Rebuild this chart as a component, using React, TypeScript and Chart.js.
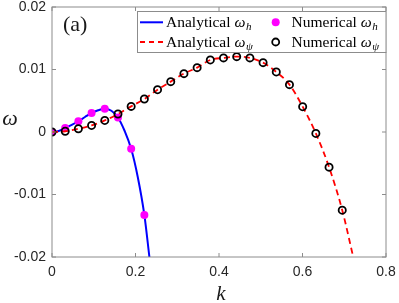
import React, { useEffect, useRef } from 'react';
import { Chart, registerables } from 'chart.js';

Chart.register(...registerables);

// Numerical samples (k)
const kNumPsi = [0, 0.0316, 0.0632, 0.0948, 0.1264, 0.158, 0.1896, 0.2212, 0.2528, 0.2844, 0.316, 0.3476, 0.3792, 0.4108, 0.4424, 0.474, 0.5056, 0.5372, 0.5688, 0.6004, 0.632, 0.6636, 0.6952];
const omegaPsiNum = [0, 0.00012, 0.00052, 0.00105, 0.00185, 0.00288, 0.0041, 0.00528, 0.00677, 0.00806, 0.00934, 0.0103, 0.01153, 0.01186, 0.01206, 0.01186, 0.0111, 0.00961, 0.00758, 0.00405, -0.00023, -0.00562, -0.01251];

const kNumH = [0, 0.0316, 0.0632, 0.0948, 0.1264, 0.158, 0.1896, 0.2212];
const omegaHNum = [0, 0.00063, 0.00172, 0.00304, 0.00373, 0.00233, -0.00269, -0.01327];

// Analytical curves
const kAnaH = [0, 0.016, 0.0316, 0.0474, 0.0632, 0.079, 0.0948, 0.1106, 0.1264, 0.1422, 0.158, 0.1738, 0.1896, 0.2054, 0.2212, 0.2333];
const omegaHAna = [0, 0.00016, 0.00063, 0.00115, 0.00172, 0.0024, 0.00304, 0.00348, 0.00373, 0.0034, 0.00233, 0.0002, -0.00269, -0.0072, -0.01327, -0.02];

const kAnaPsi = [0, 0.0316, 0.0632, 0.0948, 0.1264, 0.158, 0.1896, 0.2212, 0.2528, 0.2844, 0.316, 0.3476, 0.3792, 0.4108, 0.4424, 0.474, 0.5056, 0.5372, 0.5688, 0.6004, 0.632, 0.6636, 0.6952, 0.7215];
const omegaPsiAna = [0, 0.00012, 0.00052, 0.00105, 0.00185, 0.00288, 0.0041, 0.00528, 0.00677, 0.00806, 0.00934, 0.0103, 0.01153, 0.01186, 0.01206, 0.01186, 0.0111, 0.00961, 0.00758, 0.00405, -0.00023, -0.00562, -0.01251, -0.02];

const xTicks = [0, 0.2, 0.4, 0.6, 0.8];
const xTickLabels = ['0', '0.2', '0.4', '0.6', '0.8'];
const yTicks = [-0.02, -0.01, 0, 0.01, 0.02];
const yTickLabels = ['-0.02', '-0.01', '0', '0.01', '0.02'];

const zip = (xs: number[], ys: number[]) => xs.map((x, i) => ({ x, y: ys[i] }));

const SERIF = '"Liberation Serif", "DejaVu Serif", serif';
const SANS = '"Liberation Sans", Arial, sans-serif';

function drawLegendText(ctx: CanvasRenderingContext2D, x: number, y: number, word: string, sub: string) {
  ctx.textAlign = 'left';
  ctx.textBaseline = 'alphabetic';
  ctx.font = `15.5px ${SERIF}`;
  ctx.fillText(word + ' ', x, y);
  let cx = x + ctx.measureText(word + ' ').width;
  ctx.font = `italic 15.5px ${SERIF}`;
  ctx.fillText('ω', cx, y);
  cx += ctx.measureText('ω').width + 0.5;
  ctx.font = `italic 11px ${SERIF}`;
  ctx.fillText(sub, cx, y + 3);
}

const decor = {
  id: 'decor',
  afterDraw(chart: any) {
    const ctx: CanvasRenderingContext2D = chart.ctx;
    const { left, right, top, bottom } = chart.chartArea;
    const xs = chart.scales.x;
    const ys = chart.scales.y;
    ctx.save();
    // frame
    ctx.strokeStyle = '#8c8c8c';
    ctx.lineWidth = 1;
    ctx.strokeRect(left, top, right - left, bottom - top);
    const tl = 4;
    ctx.beginPath();
    xTicks.forEach((v) => {
      const px = xs.getPixelForValue(v);
      ctx.moveTo(px, bottom);
      ctx.lineTo(px, bottom - tl);
      ctx.moveTo(px, top);
      ctx.lineTo(px, top + tl);
    });
    yTicks.forEach((v) => {
      const py = ys.getPixelForValue(v);
      ctx.moveTo(left, py);
      ctx.lineTo(left + tl, py);
      ctx.moveTo(right, py);
      ctx.lineTo(right - tl, py);
    });
    ctx.stroke();

    // axis labels
    ctx.fillStyle = '#1a1a1a';
    ctx.font = `italic 22px ${SERIF}`;
    ctx.textAlign = 'center';
    ctx.textBaseline = 'alphabetic';
    ctx.fillText('ω', 10, 125);
    ctx.font = `italic 21px ${SERIF}`;
    ctx.fillText('k', (left + right) / 2 + 2, 300);
    ctx.font = `22px ${SERIF}`;
    ctx.textAlign = 'left';
    ctx.fillText('(a)', 63, 31);

    // legend
    const lx = 137, ly = 11, lw = right - 137 + 0.5, lh = 41;
    ctx.fillStyle = '#ffffff';
    ctx.fillRect(lx, ly, lw, lh);
    ctx.strokeStyle = '#8c8c8c';
    ctx.lineWidth = 1;
    ctx.strokeRect(lx + 0.5, ly + 0.5, lw - 1, lh);
    const r1 = 22.3, r2 = 42;
    // blue line sample
    ctx.strokeStyle = '#0000ff';
    ctx.lineWidth = 2;
    ctx.beginPath();
    ctx.moveTo(140, r1);
    ctx.lineTo(163, r1);
    ctx.stroke();
    // red dashed sample
    ctx.strokeStyle = '#ff0000';
    ctx.lineWidth = 1.8;
    ctx.setLineDash([5, 4]);
    ctx.beginPath();
    ctx.moveTo(140, r2);
    ctx.lineTo(163, r2);
    ctx.stroke();
    ctx.setLineDash([]);
    // markers
    ctx.fillStyle = '#ff00ff';
    ctx.beginPath();
    ctx.arc(275.7, r1, 4, 0, Math.PI * 2);
    ctx.fill();
    ctx.strokeStyle = '#000000';
    ctx.lineWidth = 1.8;
    ctx.beginPath();
    ctx.arc(275.7, r2, 3.5, 0, Math.PI * 2);
    ctx.stroke();
    // texts
    ctx.fillStyle = '#000000';
    drawLegendText(ctx, 166, 27.3, 'Analytical', 'h');
    drawLegendText(ctx, 166, 47, 'Analytical', 'ψ');
    drawLegendText(ctx, 291.5, 27.3, 'Numerical', 'h');
    drawLegendText(ctx, 291.5, 47, 'Numerical', 'ψ');
    ctx.restore();
  },
};

export default function App() {
  const ref = useRef<HTMLCanvasElement | null>(null);
  useEffect(() => {
    if (!ref.current) return;
    const chart = new Chart(ref.current, {
      type: 'scatter',
      data: {
        datasets: [
          {
            label: 'Numerical ωψ',
            data: zip(kNumPsi, omegaPsiNum),
            pointRadius: 3.6,
            pointBorderWidth: 1.8,
            pointBorderColor: '#000000',
            pointBackgroundColor: 'rgba(0,0,0,0)',
            showLine: false,
          },
          {
            label: 'Analytical ωψ',
            data: zip(kAnaPsi, omegaPsiAna),
            showLine: true,
            borderColor: '#ff0000',
            borderWidth: 1.8,
            borderDash: [6, 4],
            pointRadius: 0,
            cubicInterpolationMode: 'monotone',
          },
          {
            label: 'Numerical ωh',
            data: zip(kNumH, omegaHNum),
            pointRadius: 4,
            pointBorderWidth: 0,
            pointBackgroundColor: '#ff00ff',
            pointBorderColor: '#ff00ff',
            showLine: false,
          },
          {
            label: 'Analytical ωh',
            data: zip(kAnaH, omegaHAna),
            showLine: true,
            borderColor: '#0000ff',
            borderWidth: 2,
            pointRadius: 0,
            cubicInterpolationMode: 'monotone',
          },
        ],
      } as any,
      options: {
        animation: false,
        responsive: false,
        devicePixelRatio: 1,
        events: [],
        layout: { padding: { top: 7, right: 13, left: 0, bottom: 0 } },
        plugins: { legend: { display: false }, tooltip: { enabled: false } },
        scales: {
          x: {
            type: 'linear',
            min: 0,
            max: 0.8,
            grid: { display: false, drawTicks: false },
            border: { display: false },
            afterBuildTicks: (s: any) => {
              s.ticks = xTicks.map((v) => ({ value: v }));
            },
            afterFit: (s: any) => {
              s.height = 46;
              s.paddingLeft = 0;
              s.paddingRight = 0;
              s.paddingTop = 0;
              s.paddingBottom = 0;
            },
            ticks: {
              autoSkip: false,
              maxRotation: 0,
              padding: 7,
              color: '#262626',
              font: { family: SANS, size: 14 },
              callback: (_v: any, i: number) => xTickLabels[i],
            },
          },
          y: {
            type: 'linear',
            min: -0.02,
            max: 0.02,
            grid: { display: false, drawTicks: false },
            border: { display: false },
            afterBuildTicks: (s: any) => {
              s.ticks = yTicks.map((v) => ({ value: v }));
            },
            afterFit: (s: any) => {
              s.width = 52;
              s.paddingLeft = 0;
              s.paddingRight = 0;
              s.paddingTop = 0;
              s.paddingBottom = 0;
            },
            ticks: {
              autoSkip: false,
              padding: 6,
              color: '#262626',
              font: { family: SANS, size: 14 },
              callback: (_v: any, i: number) => yTickLabels[i],
            },
          },
        },
      } as any,
      plugins: [decor],
    });
    return () => chart.destroy();
  }, []);
  return (
    <div style={{ position: 'absolute', left: 0, top: 0, width: 399, height: 303, background: '#fff' }}>
      <canvas ref={ref} width={399} height={303} style={{ display: 'block' }} />
    </div>
  );
}
